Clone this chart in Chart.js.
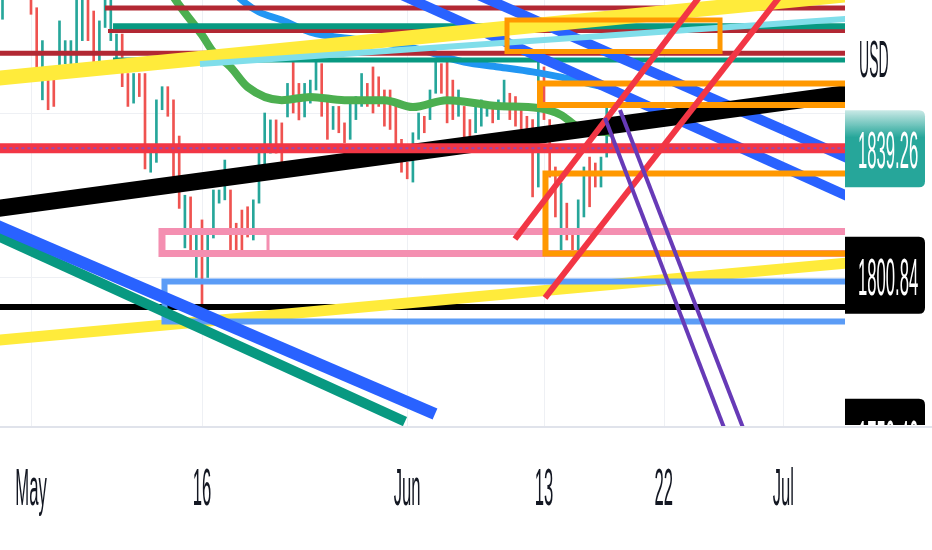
<!DOCTYPE html>
<html><head><meta charset="utf-8">
<script src="https://cdn.jsdelivr.net/npm/chart.js@4.4.1/dist/chart.umd.min.js"></script>
<style>html,body{margin:0;padding:0;background:#fff;overflow:hidden}canvas{display:block}</style>
</head><body>
<canvas id="c" width="932" height="550"></canvas>
<script>
// ===== DATA (x = bar index, 3 bars per trading day; y = price in USD) =====
const timeLabels    = ['May', '16', 'Jun', '13', '22', 'Jul'];
const timeLabelBars = [5, 35, 71, 95, 116, 137];
const gridPrices    = [1800, 1850];

const candleHigh = [1889,1896,1895,1897,1896,1888,1882,1872,1864,1861,1878,1872,1872,1886,1888,1887,1881,1878,1888,1886,
  1874,1874,1862,1862,1862,1862,1838,1854,1858,1858,1854,1843,1825,1824.5,1814.4,1817.5,1813.5,1826.6,1826.6,1835.7,
  1826.6,1816.5,1820.5,1821.5,1823.6,1838.8,1850,1847.9,1847.9,1847,1859,1866,1859,1859,1860,1866,1865,1854,1852,1852,
  1847,1853,1855,1862,1859,1864,1861,1857,1857,1854,1842,1835,1844,1850,1849,1857,1866,1865,1866,1860,
  1857,1852,1848,1852,1854,1853,1852,1854,1860,1856,1855,1851,1849,1848,1866,1864,1848,1833.6,1828.7,1822.6,
  1813.5,1823.6,1833.6,1836.6,1834.8,1836.6,1853,1844.8];
const candleLow = [1878.5,1887,1886,1887,1886,1880,1864,1854,1851,1852,1864,1865,1865,1865,1872,1872,1865,1865,1876,1872,
  1866,1858,1852,1853,1855,1833,1832,1835,1851,1849,1830.5,1821,1809,1808.4,1800,1792,1800,1812,1822.6,1823.6,
  1808.4,1808.4,1808.4,1812.3,1811.4,1822.6,1833.6,1837.8,1837.8,1834.8,1848.8,1850,1847.9,1848.8,1853,1857,1849,1842,1845,1844,
  1841,1842,1848,1852,1852,1850,1852,1846,1845,1840,1832,1830,1829,1842,1844,1848,1856,1856,1847,1848,
  1849,1839,1842,1844,1846,1849,1847,1848,1851,1848,1846,1845,1845,1824.5,1827.5,1848,1830.5,1818.4,1808.4,1811.4,
  1808.4,1808.4,1818.4,1821.5,1827.5,1827.5,1836.6,1838.8];
const candleUp = [1,1,0,1,0,0,0,1,0,0,1,1,1,1,1,0,0,1,1,1,
  1,0,0,1,0,0,1,1,1,0,0,0,1,0,1,0,1,1,1,1,
  0,0,0,0,1,1,1,1,0,0,1,0,0,1,1,1,0,0,1,0,
  0,1,1,1,0,0,0,0,0,0,0,0,1,1,0,1,1,0,0,0,
  1,0,0,1,1,1,0,1,1,0,0,0,0,0,1,0,0,0,1,0,
  0,1,1,0,0,1,1,0];

const maGreenBars   = [28, 31, 35, 37, 40, 43, 49, 54, 60, 67, 72, 78, 87, 94, 98, 101, 107];
const maGreenValues = [1890.4,1882.8,1873.7,1868.5,1864.0,1857.9,1853.9,1854.9,1853.9,1853.9,1851.8,1853.9,1852.1,1851.5,1849.4,1845.7,1843.9];
const maBlueBars    = [38, 42, 45, 49, 54, 63, 72, 81, 87, 93, 98, 104, 107];
const maBlueValues  = [1891.9,1884.3,1880.7,1878.3,1874.6,1872.2,1869.8,1865.5,1864.0,1862.5,1860.9,1858.5,1857.6];

const lastPrice = 1839.26;
const priceLabelValues = [1839.26, 1800.84, 1759.46];
const currency = 'USD';

// drawn trend lines: [[bar, price], [bar, price]]
const levelDarkRedTop   = [[17.98, 1881.9], [152, 1881.9]];
const levelTealTop      = [[19.39, 1876.4], [152, 1876.4]];
const levelDarkRedMid   = [[18.51, 1874.9], [152, 1874.9]];
const levelDarkRedLow   = [[-3, 1868.2], [152, 1868.2]];
const levelTealLow      = [[19.39, 1866.1], [152, 1866.1]];
const trendYellowUpper  = [[-3, 1860.2], [152, 1886.6]];
const trendCyan         = [[34.65, 1864.9], [152, 1879.1]];
const trendBlueA        = [[65, 1889.8], [152, 1821.8]];
const trendBlueB        = [[80, 1888.5], [152, 1833.4]];
const trendBlackThick   = [[-3, 1820.5], [152, 1856.8]];
const levelBlack        = [[-3, 1791.0], [152, 1791.0]];
const trendYellowLower  = [[-3, 1780.6], [152, 1805.0]];
const trendBlueLower    = [[-3, 1817.26], [75.88, 1758.5]];
const trendGreenLower   = [[-3, 1814.3], [70.61, 1756.2]];
const trendRedA         = [[89.91, 1811.7], [123.5, 1888.1]];
const trendRedB         = [[95.18, 1793.8], [137.5, 1887.9]];
const trendPurpleA      = [[105.70, 1848.5], [126.88, 1753.0]];
const trendPurpleB      = [[108.33, 1850.9], [130.21, 1753.0]];
// rectangles: [barFrom, barTo, priceTop, priceBottom]
const boxOrangeTop   = [88.51, 125.88, 1878.3, 1868.7];
const boxOrangeMid   = [94.30, 152, 1859.0, 1852.4];
const boxOrangeLow   = [95.26, 152, 1831.6, 1807.3];
const boxPinkWide    = [27.98, 152, 1814.0, 1807.3];
const boxPinkSmall   = [27.98, 46.58, 1814.0, 1807.3];
const boxBlue        = [28.42, 152, 1798.8, 1786.6];

// ===== BUILD =====
const pts = a => a.map(p => ({x: p[0], y: p[1]}));
const rectPts = b => pts([[b[0], b[2]], [b[1], b[2]], [b[1], b[3]], [b[0], b[3]], [b[0], b[2]]]);
const ln = (data, color, width, order, extra) => Object.assign({
  type: 'line', data, borderColor: color, borderWidth: width, pointRadius: 0, fill: false,
  tension: 0, order, clip: 0, borderCapStyle: 'butt', borderJoinStyle: 'miter'
}, extra || {});

const C = {
  darkRed: '#b22833', teal: '#089981', yellow: '#ffeb3b', cyan: '#80deea', blue: '#2962ff',
  blueMA: '#2196f3', greenMA: '#4caf50', orange: '#ff9800', pink: '#f48fb1', blueBox: '#5b9cf6',
  red: '#f23645', purple: '#673ab7', black: '#000000', up: '#26a69a', down: '#ef5350'
};

const datasets = [
  ln(pts(trendPurpleA), C.purple, 4, 1),
  ln(pts(trendPurpleB), C.purple, 4, 1),
  ln(pts(trendRedA), C.red, 6, 2),
  ln(pts(trendRedB), C.red, 6, 2),
  ln(pts([[-3, lastPrice], [152, lastPrice]]), 'rgba(120,80,210,0.75)', 2, 3, {borderDash: [3, 3]}),
  ln(pts([[-3, lastPrice], [152, lastPrice]]), C.red, 10, 4),
  ln(rectPts(boxOrangeTop), C.orange, 5, 5, {borderCapStyle: 'square'}),
  ln(rectPts(boxOrangeMid), C.orange, 6, 5, {borderCapStyle: 'square'}),
  ln(rectPts(boxOrangeLow), C.orange, 6, 5, {borderCapStyle: 'square'}),
  ln(pts(trendCyan), C.cyan, 6, 6),
  ln(pts(trendYellowUpper), C.yellow, 15, 7),
  ln(pts(trendBlackThick), C.black, 17, 8),
  ln(pts(trendBlueA), C.blue, 10, 9),
  ln(pts(trendBlueB), C.blue, 10, 9),
  ln(pts(levelTealTop), C.teal, 6, 10),
  ln(pts(levelTealLow), C.teal, 5, 10),
  ln(pts(levelDarkRedTop), C.darkRed, 5, 11),
  ln(pts(levelDarkRedMid), C.darkRed, 4, 11),
  ln(pts(levelDarkRedLow), C.darkRed, 5, 11),
  ln(pts(trendBlueLower), C.blue, 12, 12),
  ln(pts(trendGreenLower), C.teal, 10, 13),
  ln(rectPts(boxBlue), C.blueBox, 6, 14, {borderCapStyle: 'square'}),
  ln(pts(trendYellowLower), C.yellow, 11, 15),
  ln(pts(levelBlack), C.black, 6, 16),
  ln(rectPts(boxPinkWide), C.pink, 7, 17, {borderCapStyle: 'square'}),
  ln(rectPts(boxPinkSmall), C.pink, 3, 17, {borderCapStyle: 'square'}),
  ln(maBlueBars.map((b, i) => ({x: b, y: maBlueValues[i]})), C.blueMA, 7, 20, {cubicInterpolationMode: 'monotone'}),
  ln(maGreenBars.map((b, i) => ({x: b, y: maGreenValues[i]})), C.greenMA, 8, 21, {cubicInterpolationMode: 'monotone'}),
  {
    type: 'bar', order: 100, clip: 0, borderWidth: 0, barThickness: 2, grouped: false,
    data: candleHigh.map((h, i) => ({x: i, y: [candleLow[i], h]})),
    backgroundColor: candleUp.map(u => u ? C.up : C.down)
  }
];

const FONT = '52px "Liberation Sans", Arial, sans-serif';
function txt(ctx, s, x, y, sx, color, align) {
  ctx.save(); ctx.translate(x, y); ctx.scale(sx, 1);
  ctx.font = FONT; ctx.fillStyle = color; ctx.textAlign = align; ctx.textBaseline = 'alphabetic';
  ctx.fillText(s, 0, 0); ctx.restore();
}
function rrect(ctx, x, y, w, h, r) {
  ctx.beginPath(); ctx.moveTo(x, y); ctx.lineTo(x + w - r, y); ctx.quadraticCurveTo(x + w, y, x + w, y + r);
  ctx.lineTo(x + w, y + h - r); ctx.quadraticCurveTo(x + w, y + h, x + w - r, y + h); ctx.lineTo(x, y + h); ctx.closePath();
}
const labelShift = [0, 0, 26];
const labelFill = ['teal', '#000', '#000'];

const overlay = {
  id: 'overlay',
  beforeDatasetsDraw(chart) {
    const {ctx, chartArea: a, scales: {x, y}} = chart;
    ctx.save(); ctx.strokeStyle = '#eef0f4'; ctx.lineWidth = 1;
    timeLabelBars.forEach(b => { const px = Math.round(x.getPixelForValue(b)) + 0.5; ctx.beginPath(); ctx.moveTo(px, a.top); ctx.lineTo(px, a.bottom); ctx.stroke(); });
    gridPrices.forEach(p => { const py = Math.round(y.getPixelForValue(p)) + 0.5; ctx.beginPath(); ctx.moveTo(a.left, py); ctx.lineTo(a.right, py); ctx.stroke(); });
    ctx.restore();
  },
  afterDraw(chart) {
    const {ctx, chartArea: a, scales: {x, y}} = chart;
    const W = chart.width;
    ctx.save();
    ctx.beginPath(); ctx.rect(a.right, 0, W - a.right, a.bottom - 1); ctx.clip();
    priceLabelValues.forEach((v, i) => {
      const cy = y.getPixelForValue(v) + labelShift[i];
      const top = cy - 38, h = 77;
      if (labelFill[i] === 'teal') {
        const g = ctx.createLinearGradient(0, top, 0, top + h);
        g.addColorStop(0, 'rgba(38,166,154,0.25)'); g.addColorStop(0.35, '#26a69a'); g.addColorStop(1, '#26a69a');
        ctx.fillStyle = g;
      } else ctx.fillStyle = labelFill[i];
      rrect(ctx, a.right, top, 80, h, 6); ctx.fill();
      txt(ctx, v.toFixed(2), a.right + 13, cy + 20, 0.32, '#ffffff', 'left');
    });
    ctx.restore();
    txt(ctx, currency, a.right + 14, 77, 0.27, '#131722', 'left');
    ctx.save(); ctx.fillStyle = '#e0e3eb'; ctx.fillRect(0, a.bottom, W, 2); ctx.restore();
    timeLabels.forEach((t, i) => txt(ctx, t, x.getPixelForValue(timeLabelBars[i]), 505, 0.32, '#131722', 'center'));
  }
};

new Chart(document.getElementById('c'), {
  type: 'line',
  data: {datasets},
  options: {
    responsive: false, animation: false, events: [],
    layout: {padding: {left: 0, top: 0, right: 87, bottom: 124}},
    plugins: {legend: {display: false}, tooltip: {enabled: false}},
    scales: {
      x: {type: 'linear', display: false, offset: false, grid: {offset: false}, min: -0.4386, max: 147.807},
      y: {type: 'linear', display: false, min: 1754.86, max: 1884.35}
    }
  },
  plugins: [overlay]
});
</script>
</body></html>
